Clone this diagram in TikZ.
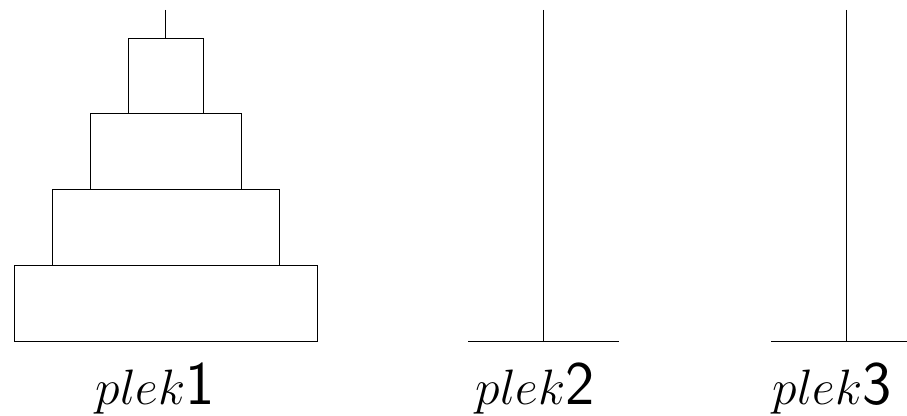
\documentclass[tikz,border=0pt]{standalone}
\usepackage{tikz}
\usetikzlibrary{positioning,calc}
\tikzset{
	disk/.style={draw, rectangle, line width=0.45pt, inner sep=0pt, fill=white},
	rod/.style={line width=0.45pt},
	lbl/.style={font=\fontsize{31}{36}\selectfont, inner sep=0pt},
}
\begin{document}
\begin{tikzpicture}[x=0.5pt, y=-0.5pt]
				\useasboundingbox (0,0) rectangle (907,416);
				% rod tops and bottoms
				\coordinate (top1) at (165.5,10);
				\coordinate (top2) at (543,10);
				\coordinate (bot2) at (543,341);
				\coordinate (top3) at (846,10);
				\coordinate (bot3) at (846,341);
				\coordinate (b2l) at (468,341);
				\coordinate (b2r) at (619,341);
				\coordinate (b3l) at (771,341);
				\coordinate (b3r) at (922,341);
				% disks on the first rod
				\node[disk, minimum width=37.5pt, minimum height=37.5pt] at (165.5,75.5) (d1) {};
				\node[disk, minimum width=75.5pt, minimum height=38pt] at (165.5,151) (d2) {};
				\node[disk, minimum width=113.5pt, minimum height=38pt] at (165.5,227) (d3) {};
				\node[disk, minimum width=151.5pt, minimum height=38pt] at (165.5,303) (d4) {};
				\draw[rod] (top1) -- (d1.north);
				\draw[rod] (top2) -- (bot2);
				\draw[rod] (b2l) -- (b2r);
				\draw[rod] (top3) -- (bot3);
				\draw[rod] (b3l) -- (b3r);
				% labels
				\node[lbl] at (155,389) (p1) {$plek$\textsf{1}};
				\node[lbl] at (535,389) (p2) {$plek$\textsf{2}};
				\node[lbl] at (832,389) (p3) {$plek$\textsf{3}};
			\end{tikzpicture}
\end{document}
